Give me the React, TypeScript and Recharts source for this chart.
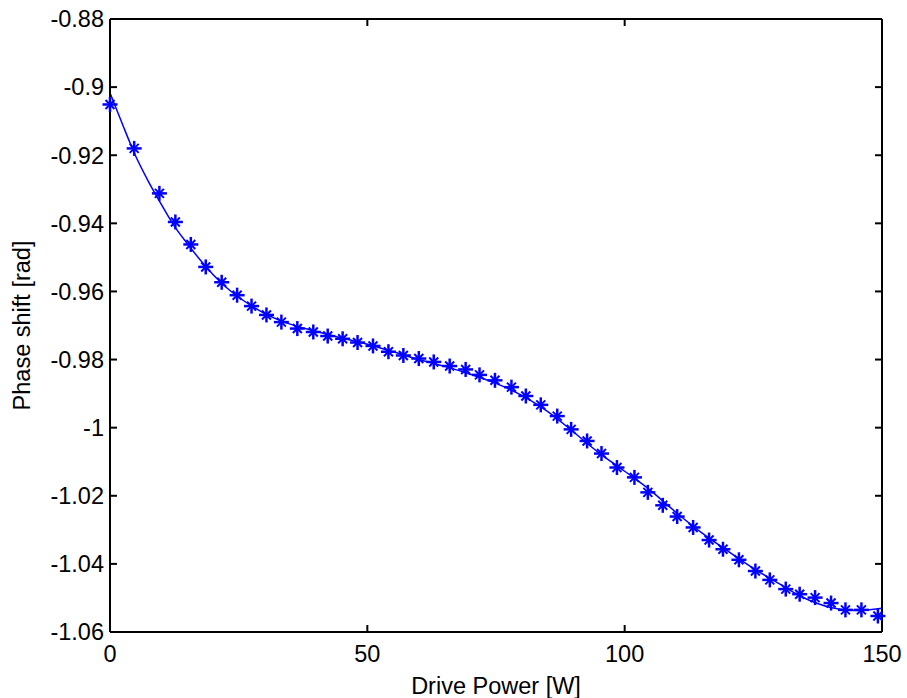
import { ComposedChart, Line, Scatter, XAxis, YAxis } from "recharts";

// measured points (asterisks)
const powerW = [
  0, 4.7, 9.6, 12.7, 15.7, 18.6, 21.7, 24.7, 27.5, 30.4,
  33.3, 36.4, 39.5, 42.3, 45.2, 48.1, 51.1, 54.1, 57.0, 60.0,
  62.9, 66.0, 69.1, 71.8, 74.8, 78.0, 80.8, 83.7, 86.9, 89.6,
  92.7, 95.5, 98.5, 101.9, 104.5, 107.4, 110.2, 113.3, 116.4, 119.1,
  122.2, 125.4, 128.2, 131.3, 134.0, 137.0, 140.1, 142.9, 146.0, 149.2,
];
const phaseRad = [
  -0.9051, -0.918, -0.9312, -0.9396, -0.9462, -0.9528, -0.9573, -0.9611, -0.9643, -0.9669,
  -0.969, -0.9709, -0.9719, -0.9731, -0.9739, -0.975, -0.976, -0.9777, -0.9788, -0.9797,
  -0.9807, -0.9819, -0.9829, -0.9845, -0.9861, -0.9881, -0.9907, -0.9933, -0.9966, -1.0005,
  -1.0039, -1.0076, -1.0117, -1.0146, -1.019, -1.0228, -1.0261, -1.0293, -1.033, -1.0357,
  -1.0388, -1.0421, -1.0447, -1.0474, -1.0489, -1.0499, -1.0515, -1.0535, -1.0535, -1.0553,
];

// fitted curve
const fitPowerW = [
  0, 2.5, 5, 7.5, 10, 12.5, 15, 17.5, 20, 22.5, 25, 27.5, 30, 32.5, 35,
  40, 45, 50, 55, 60, 65, 70, 75, 80, 85, 90, 95, 100, 105, 110, 115,
  120, 125, 130, 135, 140, 145, 150,
];
const fitPhaseRad = [
  -0.9017, -0.9112, -0.9203, -0.9278, -0.9345, -0.9408, -0.9459, -0.9507, -0.955, -0.9587,
  -0.9617, -0.9642, -0.9664, -0.9682, -0.9696, -0.9717, -0.9737, -0.9755, -0.9777, -0.98,
  -0.982, -0.9843, -0.987, -0.9905, -0.9952, -1.0012, -1.0074, -1.0128, -1.0184, -1.0249,
  -1.0309, -1.0362, -1.0413, -1.0458, -1.0501, -1.0528, -1.0537, -1.053,
];

const xTicks = [0, 50, 100, 150];
const yTicks = [-1.06, -1.04, -1.02, -1, -0.98, -0.96, -0.94, -0.92, -0.9, -0.88];

const points = powerW.map((x, i) => ({ x, y: phaseRad[i] }));
const fit = fitPowerW.map((x, i) => ({ x, y: fitPhaseRad[i] }));

const BLUE = "#0000ff";
const FONT = "'Liberation Sans', Arial, sans-serif";

const Star = (props: any) => {
  const { cx, cy } = props;
  const a = 7.5;
  const d = 4.5;
  return (
    <g stroke={BLUE} strokeWidth={2.5}>
      <line x1={cx - a} y1={cy} x2={cx + a} y2={cy} />
      <line x1={cx} y1={cy - a} x2={cx} y2={cy + a} />
      <line x1={cx - d} y1={cy - d} x2={cx + d} y2={cy + d} strokeWidth={2} />
      <line x1={cx - d} y1={cy + d} x2={cx + d} y2={cy - d} strokeWidth={2} />
    </g>
  );
};

// box axes (top/right): tick marks only
const NoLabel = () => <g />;

const axisLine = { stroke: "#000", strokeWidth: 2 };
const tickLine = { stroke: "#000", strokeWidth: 2 };
const tickStyle = { fill: "#000", fontSize: 23.5, fontFamily: FONT };

const App = () => {
  return (
    <div style={{ position: "absolute", left: 0, top: 0, width: 907, height: 698 }}>
      <ComposedChart
        width={907}
        height={698}
        margin={{ top: 18, right: 24, left: 0, bottom: 0 }}
      >
        <XAxis
          dataKey="x"
          type="number"
          domain={[0, 150]}
          ticks={xTicks}
          height={66}
          tickSize={-7}
          tickMargin={20}
          axisLine={axisLine}
          tickLine={tickLine}
          tick={tickStyle}
          label={{
            value: "Drive Power [W]",
            position: "insideBottom",
            offset: 4,
            style: { fill: "#000", fontSize: 23.5, fontFamily: FONT },
          }}
        />
        <XAxis
          xAxisId="top"
          orientation="top"
          dataKey="x"
          type="number"
          domain={[0, 150]}
          ticks={xTicks}
          height={1}
          tickSize={-7}
          axisLine={axisLine}
          tickLine={tickLine}
          tick={NoLabel}
        />
        <YAxis
          dataKey="y"
          type="number"
          domain={[-1.06, -0.88]}
          ticks={yTicks}
          width={110}
          tickSize={-7}
          tickMargin={13}
          axisLine={axisLine}
          tickLine={tickLine}
          tick={tickStyle}
          label={{
            value: "Phase shift [rad]",
            angle: -90,
            position: "insideLeft",
            offset: 22,
            style: { fill: "#000", fontSize: 23.5, fontFamily: FONT, textAnchor: "middle" },
          }}
        />
        <YAxis
          yAxisId="right"
          orientation="right"
          dataKey="y"
          type="number"
          domain={[-1.06, -0.88]}
          ticks={yTicks}
          width={1}
          tickSize={-7}
          axisLine={axisLine}
          tickLine={tickLine}
          tick={NoLabel}
        />
        <Line
          data={fit}
          xAxisId="top"
          yAxisId="right"
          dataKey="y"
          type="monotone"
          stroke={BLUE}
          strokeWidth={1.5}
          dot={false}
          activeDot={false}
          isAnimationActive={false}
        />
        <Scatter
          data={points}
          dataKey="y"
          shape={Star}
          isAnimationActive={false}
        />
      </ComposedChart>
    </div>
  );
};

export default App;
